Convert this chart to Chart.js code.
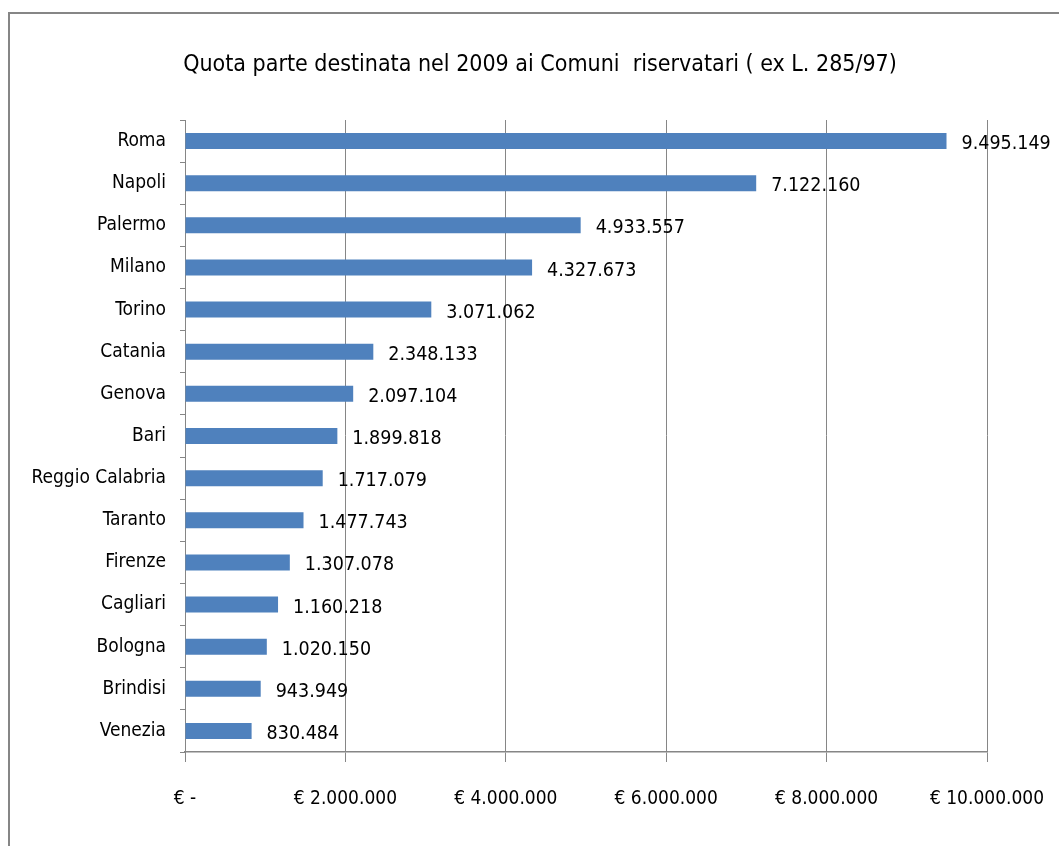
<!DOCTYPE html>
<html lang="it">
<head>
    <meta charset="UTF-8">
    <title>Quota parte destinata nel 2009 ai Comuni riservatari</title>
    <script src="https://cdn.jsdelivr.net/npm/chart.js"></script>
    <style>
        * {
            box-sizing: border-box;
            margin: 0;
            padding: 0;
        }

        body {
            background: #fff;
            width: 1059px;
            height: 846px;
            overflow: hidden;
            position: relative;
        }

        .frame {
            position: absolute;
            left: 8px;
            top: 12px;
            width: 1100px;
            height: 900px;
            border: 2px solid #868686;
        }

        #chart {
            position: absolute;
            left: 0;
            top: 0;
        }
    </style>
</head>
<body>
    <div class="frame"></div>
    <canvas id="chart" width="1059" height="846"></canvas>

    <script>
        // Data
        const cities = ['Roma', 'Napoli', 'Palermo', 'Milano', 'Torino', 'Catania', 'Genova', 'Bari',
            'Reggio Calabria', 'Taranto', 'Firenze', 'Cagliari', 'Bologna', 'Brindisi', 'Venezia'];
        const amounts = [9495149, 7122160, 4933557, 4327673, 3071062, 2348133, 2097104, 1899818,
            1717079, 1477743, 1307078, 1160218, 1020150, 943949, 830484];
        const xTicks = [0, 2000000, 4000000, 6000000, 8000000, 10000000];
        const titleText = 'Quota parte destinata nel 2009 ai Comuni  riservatari ( ex L. 285/97)';

        const FONT = '"Liberation Sans Narrow", "DejaVu Sans Condensed", "Open Sans", sans-serif';

        function dots(n) {
            return String(n).replace(/\B(?=(\d{3})+(?!\d))/g, '.');
        }

        function euro(v) {
            return v === 0 ? '€ -' : '€ ' + dots(v);
        }

        // value labels to the right of each bar, and the title centred on the frame
        const valueLabels = {
            id: 'valueLabels',
            afterDatasetsDraw(chart) {
                const ctx = chart.ctx;
                const meta = chart.getDatasetMeta(0);
                ctx.save();
                ctx.font = '19.5px ' + FONT;
                ctx.fillStyle = '#000';
                ctx.textAlign = 'left';
                ctx.textBaseline = 'middle';
                meta.data.forEach((bar, i) => {
                    ctx.fillText(dots(amounts[i]), bar.x + 15, bar.y + 3);
                });

                ctx.font = '23px ' + FONT;
                ctx.textAlign = 'center';
                ctx.fillText(titleText, 540, 65);
                ctx.restore();
            }
        };

        new Chart(document.getElementById('chart'), {
            type: 'bar',
            data: {
                labels: cities,
                datasets: [{
                    data: amounts,
                    backgroundColor: '#4F81BD',
                    borderWidth: 0,
                    categoryPercentage: 1,
                    barPercentage: 0.38
                }]
            },
            options: {
                indexAxis: 'y',
                responsive: false,
                animation: false,
                layout: {
                    padding: { left: 0, right: 72, top: 120, bottom: 34 }
                },
                plugins: {
                    legend: { display: false },
                    tooltip: { enabled: false },
                    title: { display: false }
                },
                scales: {
                    x: {
                        min: 0,
                        max: 10000000,
                        afterBuildTicks(scale) {
                            scale.ticks = xTicks.map(v => ({ value: v }));
                        },
                        afterFit(scale) {
                            scale.height = 60;
                            scale.paddingLeft = 0;
                            scale.paddingRight = 0;
                        },
                        ticks: {
                            color: '#000',
                            font: { family: FONT, size: 19 },
                            padding: 26,
                            maxRotation: 0,
                            callback: v => euro(v)
                        },
                        grid: {
                            color: '#868686',
                            lineWidth: 1,
                            tickLength: 10
                        },
                        border: { color: '#868686', width: 1.5 }
                    },
                    y: {
                        afterFit(scale) {
                            scale.width = 185;
                            scale.paddingTop = 0;
                            scale.paddingBottom = 0;
                        },
                        ticks: {
                            color: '#000',
                            font: { family: FONT, size: 19 },
                            padding: 14
                        },
                        grid: {
                            offset: true,
                            drawOnChartArea: false,
                            color: '#868686',
                            tickLength: 5
                        },
                        border: { color: '#868686', width: 1 }
                    }
                }
            },
            plugins: [valueLabels]
        });
    </script>
</body>
</html>
